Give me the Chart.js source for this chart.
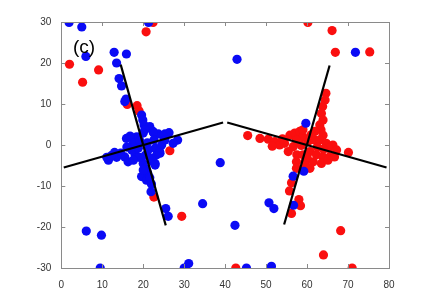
<!DOCTYPE html>
<html>
<head>
<meta charset="utf-8">
<script src="https://cdn.jsdelivr.net/npm/chart.js@4.4.1/dist/chart.umd.min.js"></script>
<style>
  html, body { margin: 0; padding: 0; background: #fff; }
  #wrap { width: 436px; height: 301px; }
</style>
</head>
<body>
<div id="wrap"><canvas id="mycanvas" width="436" height="301"></canvas></div>
<script>
// axis ticks
var xTicks = [0, 10, 20, 30, 40, 50, 60, 70, 80];
var yTicks = [-30, -20, -10, 0, 10, 20, 30];

// blue points [x, y]
var bluePts = [
  [1.9,29.9],[5.0,28.8],[6.0,21.6],[12.9,22.6],[15.9,22.2],[13.5,20.0],[14.1,16.2],[14.7,14.4],[15.8,11.2],
  [15.5,10.6],[21.3,29.9],[42.9,20.9],[38.8,-4.3],[34.5,-14.3],[42.4,-19.6],[25.5,-15.5],[26.1,-17.4],[21.9,-11.4],
  [6.1,-21.0],[9.8,-22.0],[9.5,-30],[30.0,-30],[31.1,-28.9],[45.2,-30],[51.3,-29.6],[50.7,-14.1],[51.9,-15.5],
  [56.6,-7.6],[59.2,-6.4],[56.7,-14.7],[59.7,5.3],[71.8,22.6],
  [19.6,7.3],[19.9,6.1],[20.2,4.9],[21.6,4.5],[20.4,3.7],[22.4,3.3],[23.7,2.7],[25.3,2.7],[26.3,3.0],[28.4,1.2],
  [15.9,1.6],[18.4,2.0],[20.0,2.9],[22.5,3.0],[24.9,2.2],[16.8,2.2],[17.6,0.4],[19.2,1.0],[21.0,0.5],[22.6,1.2],
  [24.5,0.0],[25.3,1.2],[11.5,-3.7],[13.5,-3.0],[15.5,-2.9],[16.3,-4.1],[18.0,-2.4],[17.2,-1.2],[18.8,-0.8],
  [21.2,-1.2],[22.9,-0.8],[23.3,-2.4],[22.4,-4.1],[22.9,-4.5],[20.0,-4.5],[20.4,-5.7],[19.6,-7.7],[20.8,-8.6],
  [21.1,-6.9],[19.0,-3.0],[20.5,-2.5],[14.5,-2.0],[16.0,-0.5],[13.0,-1.8],[21.8,-3.2],[24.0,-1.5],[22.0,-9.5],
  [11.1,-3.0],[12.2,-2.6],[27.3,0.4],[24.1,-2.0],[17.6,-3.7],[21.6,-8.0],[22.9,-4.9],[20.0,-6.1]
];

// red points [x, y]
var redPts = [
  [22.4,29.9],[20.7,27.6],[2.0,19.7],[5.2,15.3],[9.1,18.3],[16.1,9.9],[18.5,9.6],[19.0,8.3],[26.5,-1.4],
  [22.6,-12.7],[29.4,-17.4],[42.6,-30],[60.2,29.9],[66.1,27.9],[66.9,22.6],[75.3,22.7],[68.2,-20.9],
  [64.0,-26.8],[71.0,-30],[70.1,-1.8],
  [45.5,2.3],[48.5,1.6],[50.5,1.4],[52.1,0.8],[53.3,0.0],[54.5,0.4],[55.8,2.4],[57.4,2.4],[55.4,-1.6],
  [56.6,-0.4],[57.4,-4.1],[57.5,-2.4],[64.6,12.6],[64.4,11.0],[63.8,9.4],[63.5,7.7],[63.9,6.1],[63.1,4.9],
  [63.4,3.7],[61.9,3.3],[63.9,2.4],[57.0,2.9],[58.2,3.3],[59.0,2.0],[57.4,1.2],[58.6,-0.1],[60.2,0.8],
  [61.9,1.2],[63.1,1.2],[64.7,0.4],[66.3,0.0],[65.2,-0.8],[67.2,-1.2],[59.0,-2.4],[60.7,-1.6],[62.3,-2.4],
  [63.9,-2.9],[65.5,-2.9],[66.7,-2.9],[59.5,-4.1],[61.5,-4.1],[63.5,-4.5],[65.1,-3.7],[57.4,-5.7],[59.5,-5.7],
  [60.7,-5.7],[56.2,-9.2],[55.7,-11.2],[58.0,-13.3],[58.4,-14.8],[56.2,-16.7],[59.0,3.7],[62.5,-0.5],
  [60.0,-3.0],[64.0,-1.0],[61.0,2.5],[54.0,1.5],[51.5,-0.3]
];

// black line segments, endpoints [x, y]
var segments = [
  [[0.6,-5.5],[39.5,5.5]],
  [[14.5,19.6],[25.5,-19.6]],
  [[40.5,5.5],[79.4,-5.5]],
  [[65.5,19.4],[54.4,-19.4]]
];

var panelLabel = '(c)';

function toXY(arr) {
  return arr.map(function(p) { return {x: p[0], y: p[1]}; });
}

var datasets = [];
for (var i in segments) {
  datasets.push({
    type: 'line',
    data: toXY(segments[i]),
    borderColor: '#000',
    borderWidth: 2.2,
    pointRadius: 0,
    showLine: true,
    fill: false,
    order: 0,
    clip: 0
  });
}
datasets.push({
  data: toXY(bluePts),
  backgroundColor: 'rgb(10,10,245)',
  borderWidth: 0,
  pointRadius: 4.6,
  order: 1,
  clip: 0
});
datasets.push({
  data: toXY(redPts),
  backgroundColor: 'rgb(250,15,15)',
  borderWidth: 0,
  pointRadius: 4.6,
  order: 2,
  clip: 0
});

// box, inward ticks and panel letter
var boxPlugin = {
  id: 'box',
  afterDatasetsDraw: function(chart) {
    var ctx = chart.ctx, a = chart.chartArea;
    var xs = chart.scales.x, ys = chart.scales.y;
    ctx.save();
    ctx.strokeStyle = '#8a8a8a';
    ctx.lineWidth = 1;
    ctx.strokeRect(Math.round(a.left) + 0.5, Math.round(a.top) + 0.5,
      Math.round(a.right - a.left), Math.round(a.bottom - a.top));
    ctx.beginPath();
    xTicks.forEach(function(v) {
      var px = Math.round(xs.getPixelForValue(v)) + 0.5;
      ctx.moveTo(px, a.bottom); ctx.lineTo(px, a.bottom - 4);
      ctx.moveTo(px, a.top); ctx.lineTo(px, a.top + 4);
    });
    yTicks.forEach(function(v) {
      var py = Math.round(ys.getPixelForValue(v)) + 0.5;
      ctx.moveTo(a.left, py); ctx.lineTo(a.left + 4, py);
      ctx.moveTo(a.right, py); ctx.lineTo(a.right - 4, py);
    });
    ctx.stroke();
    ctx.fillStyle = '#000';
    ctx.font = '19px "Liberation Sans", Arial, sans-serif';
    ctx.textBaseline = 'alphabetic';
    ctx.fillText(panelLabel, 73, 53);
    ctx.restore();
  }
};

var ctx = document.getElementById('mycanvas');
var myChart = new Chart(ctx, {
  type: 'scatter',
  data: { datasets: datasets },
  options: {
    responsive: false,
    animation: false,
    layout: { padding: { left: 0, right: 47, top: 22, bottom: 0 } },
    plugins: { legend: { display: false }, tooltip: { enabled: false } },
    scales: {
      x: {
        type: 'linear', min: 0, max: 80,
        afterBuildTicks: function(s) { s.ticks = xTicks.map(function(v) { return {value: v}; }); },
        afterFit: function(s) { s.height = 33; },
        grid: { display: false },
        border: { display: false },
        ticks: { color: '#333', padding: 3, maxRotation: 0, font: { family: '"Liberation Sans", Arial, sans-serif', size: 10 } }
      },
      y: {
        type: 'linear', min: -30, max: 30,
        afterBuildTicks: function(s) { s.ticks = yTicks.map(function(v) { return {value: v}; }); },
        afterFit: function(s) { s.width = 61.3; },
        grid: { display: false },
        border: { display: false },
        ticks: { color: '#333', padding: 2, font: { family: '"Liberation Sans", Arial, sans-serif', size: 10 } }
      }
    }
  },
  plugins: [boxPlugin]
});
</script>
</body>
</html>
